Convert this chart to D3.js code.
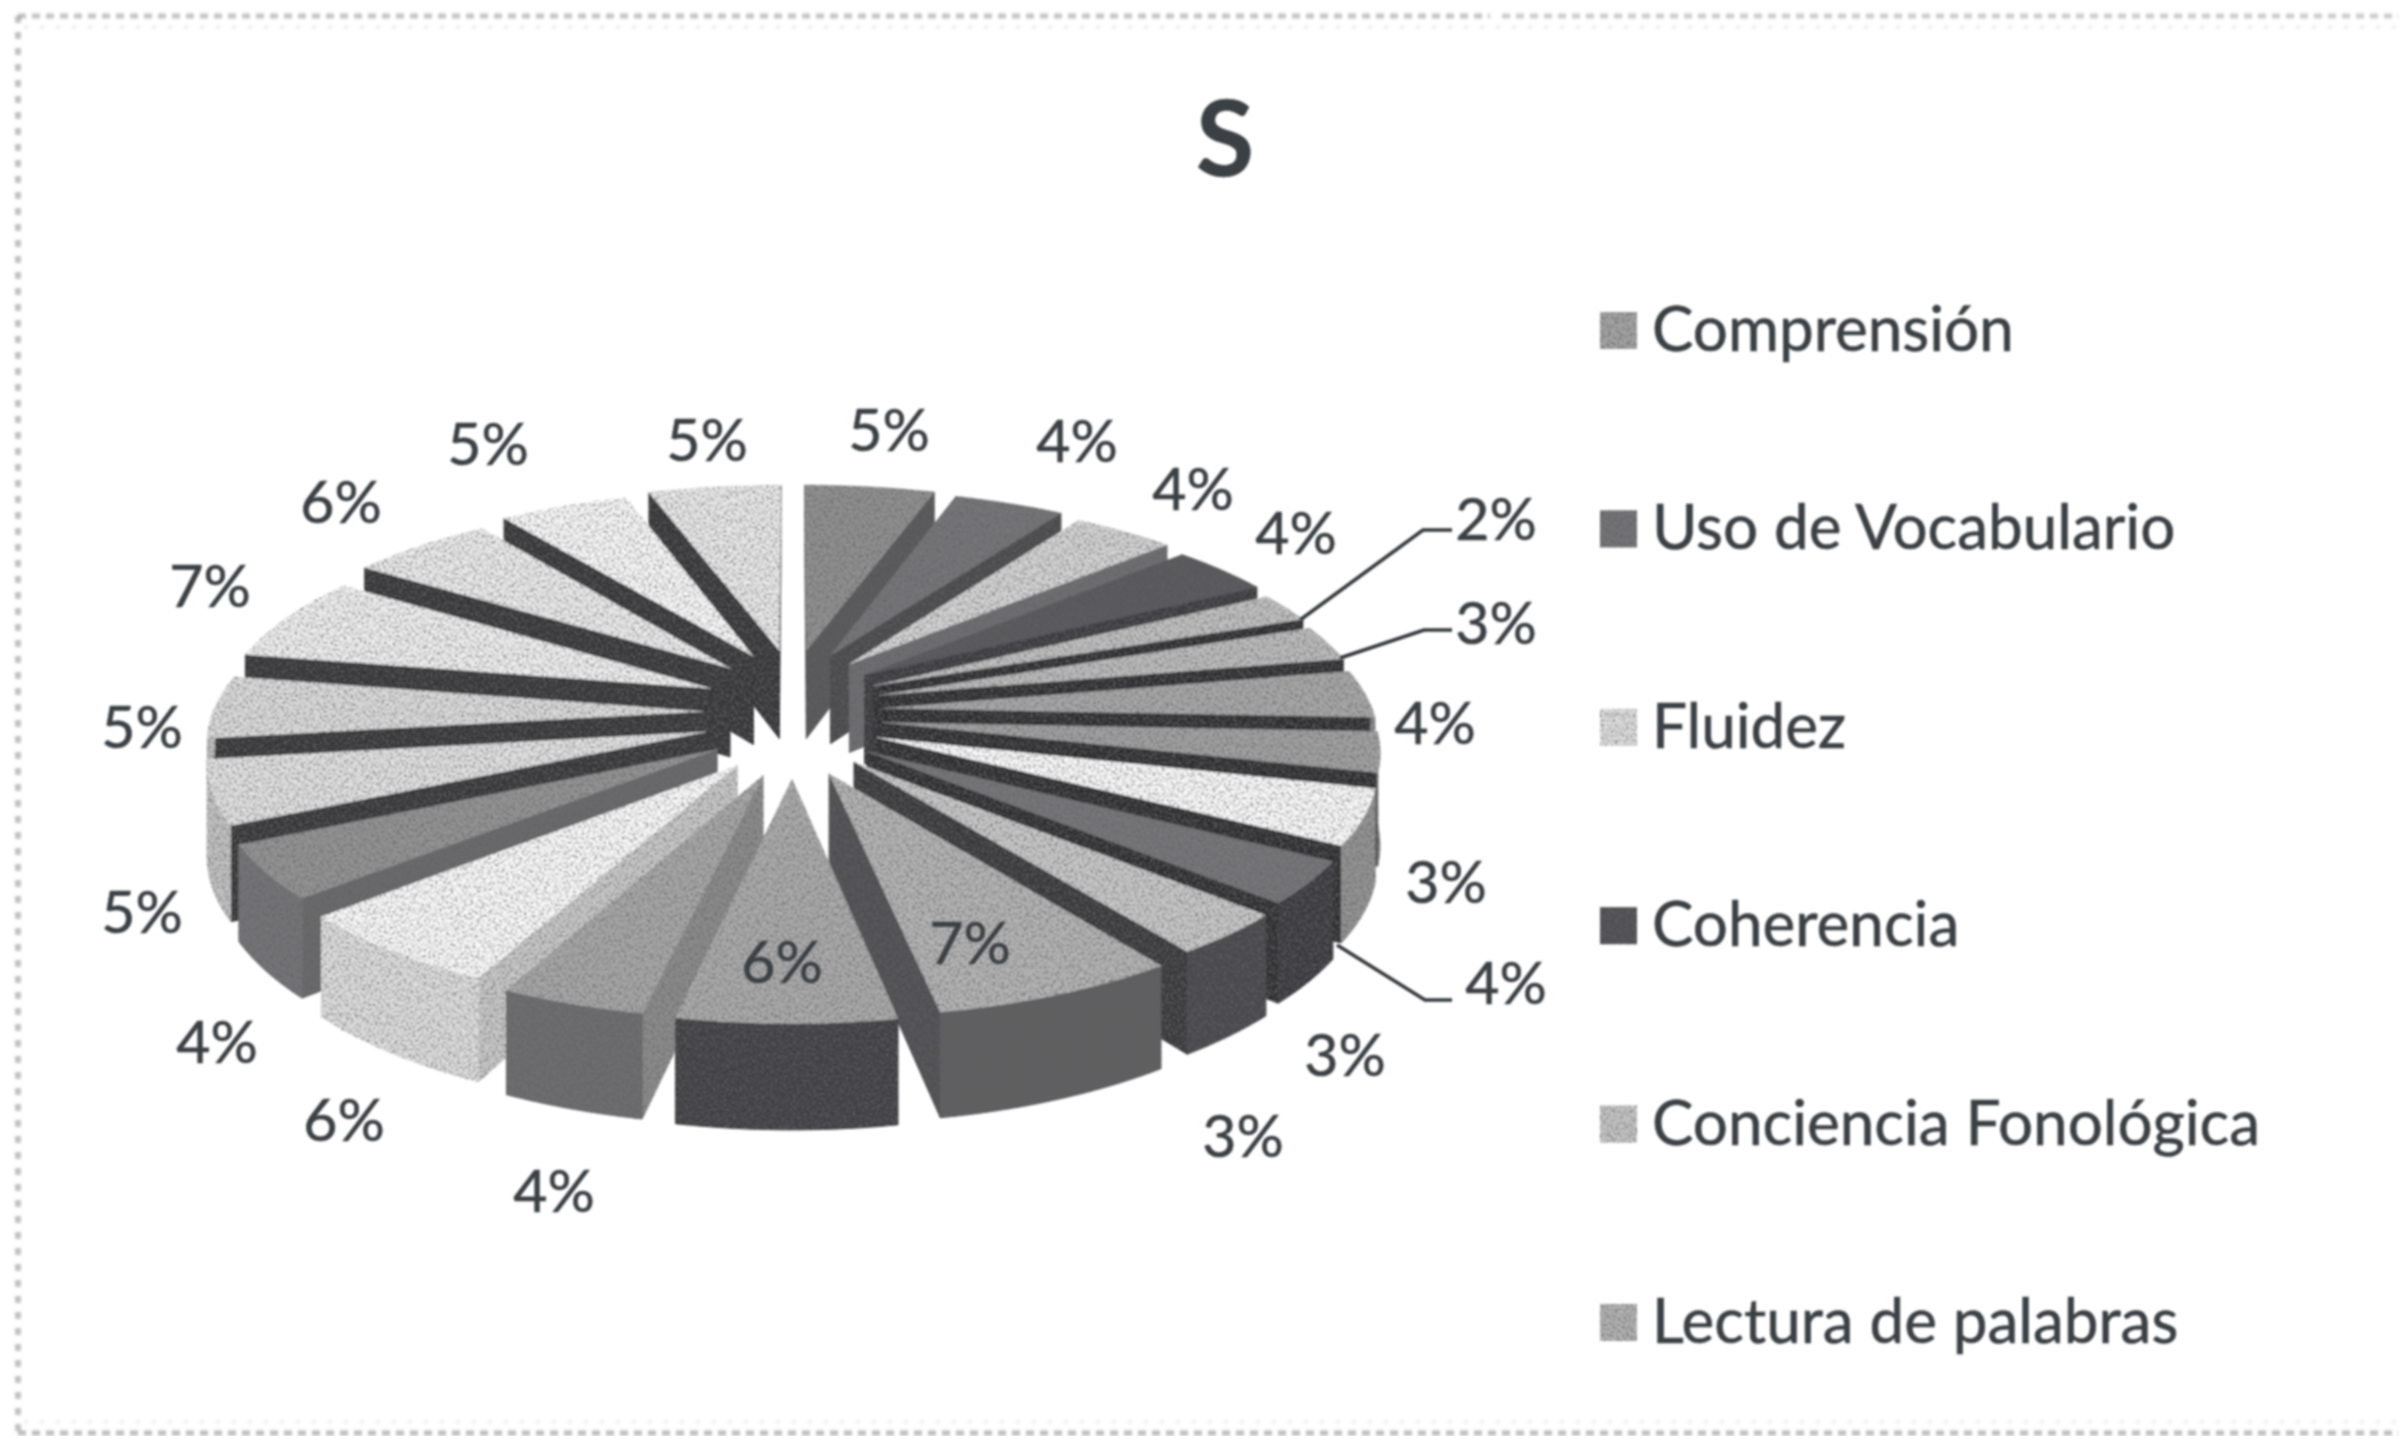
<!DOCTYPE html>
<html>
<head>
<meta charset="utf-8">
<script src="https://cdn.jsdelivr.net/npm/d3@7"></script>
<style>
  html, body { margin: 0; padding: 0; background: #fff; }
  svg { display: block; }
  text { font-family: Lato, "Open Sans", sans-serif; fill: #3b4045; stroke: #3b4045; stroke-width: 0.6; }
</style>
</head>
<body>
<svg id="chart" width="2399" height="1436"></svg>
<script>
// ─── DATA ────────────────────────────────────────────────────────────────────
const title = 'S';
const legendNames = ['Comprensión', 'Uso de Vocabulario', 'Fluidez', 'Coherencia', 'Conciencia Fonológica', 'Lectura de palabras'];
const legendColors = ['#a6a6a6', '#757577', '#e2e2e2', '#505052', '#c8c8c8', '#b6b6b6'];

// clockwise from twelve o'clock (labels are these rounded)
const percents = [4.9, 4.2, 3.9, 3.9, 2.3, 2.8, 3.8, 3.2, 4.4, 3.4, 3.4, 7.0, 6.2, 4.1, 6.2, 4.3, 5.1, 5.0, 6.8, 5.5, 4.9, 5.0];
const topColors = ['#939393', '#777779', '#d8d8d8', '#59595b', '#c4c4c4', '#c0c0c0', '#ababab', '#a4a4a4', '#ffffff', '#78787a', '#cccccc', '#b8b8b8',
                   '#aeaeae', '#aaaaaa', '#ffffff', '#969696', '#e6e6e6', '#e0e0e0', '#f4f4f4', '#f0f0f0', '#fdfdfd', '#eeeeee'];
const sideColors = ['#6a6a6a', '#505052', '#8a8a8a', '#3a3a3c', '#7a7a7a', '#7a7a7a', '#8c8c8c', '#7d7d7d', '#969696', '#36363a', '#46464a', '#5e5e60',
                    '#3e3e40', '#6e6e70', '#e2e2e2', '#767678', '#c6c6c6', '#c2c2c2', '#d6d6d6', '#cecece', '#d6d6d6', '#cecece'];
const wallColors = ['#58585a', '#48484a', '#707072', '#38383a', '#262628', '#262628', '#262628', '#262628', '#262628', '#262628', '#343436', '#505052',
                    '#48484a', '#8e8e8e', '#cccccc', '#6a6a6c', '#303032', '#303032', '#303032', '#303032', '#303032', '#303032'];

// ─── LAYOUT ──────────────────────────────────────────────────────────────────
const svg = d3.select('#chart');
const cx = 793, cy = 713;
const radius = 490, explode = 90, depth = 90;
const tilt = 0.405, explodeLift = 0.315, persp = 0.000263;

// ground plane (x right, y toward the viewer) to screen; the explosion moves a bit more on y
function project(s, gx, gy, z) {
  const Y = s.oy + gy;
  const k = 1 / (1 - persp * Y);
  return [cx + (s.ox + gx) * k, cy + (Y * tilt + s.oy * explodeLift + z) * k];
}

const arcs = d3.pie().sort(null).value(d => d)(percents).map((a, i) => {
  const mid = (a.startAngle + a.endAngle) / 2;
  return {
    i, pct: Math.round(percents[i]), mid,
    start: a.startAngle, end: a.endAngle,
    ox: explode * Math.sin(mid),
    oy: -explode * Math.cos(mid)
  };
});

function ringPoint(s, ang, r, z) {
  return project(s, r * Math.sin(ang), -r * Math.cos(ang), z);
}

const line = d3.line().curve(d3.curveLinear);

// ─── DEFS ────────────────────────────────────────────────────────────────────
const defs = svg.append('defs');
const grain = defs.append('filter').attr('id', 'grain')
  .attr('filterUnits', 'userSpaceOnUse')
  .attr('x', 0).attr('y', 0).attr('width', 2399).attr('height', 1436);
grain.append('feTurbulence').attr('type', 'fractalNoise').attr('baseFrequency', 0.45)
  .attr('numOctaves', 2).attr('seed', 7).attr('result', 'noise');
grain.append('feColorMatrix').attr('in', 'noise').attr('type', 'matrix')
  .attr('values', '0 0 0 0 0.12  0 0 0 0 0.12  0 0 0 0 0.13  2.8 0 0 0 -1.2').attr('result', 'dark');
grain.append('feComposite').attr('in', 'dark').attr('in2', 'SourceAlpha').attr('operator', 'in').attr('result', 'specks');
const merge = grain.append('feMerge').attr('result', 'merged');
merge.append('feMergeNode').attr('in', 'SourceGraphic');
merge.append('feMergeNode').attr('in', 'specks');
grain.append('feGaussianBlur').attr('in', 'merged').attr('stdDeviation', 1);

const soft = defs.append('filter').attr('id', 'soft');
soft.append('feGaussianBlur').attr('stdDeviation', 0.8);
const fuzz = defs.append('filter').attr('id', 'fuzz')
  .attr('filterUnits', 'userSpaceOnUse')
  .attr('x', 0).attr('y', 0).attr('width', 2399).attr('height', 1436);
fuzz.append('feGaussianBlur').attr('stdDeviation', 1.6);

// ─── FRAME (scanner edge) ────────────────────────────────────────────────────
const frame = svg.append('g').attr('fill', 'none').attr('stroke', '#777').attr('filter', 'url(#fuzz)');
frame.append('line').attr('x1', 18).attr('x2', 1490).attr('y1', 16).attr('y2', 16)
  .attr('stroke-width', 5).attr('stroke-dasharray', '8 6').attr('stroke-opacity', 0.45);
frame.append('line').attr('x1', 1502).attr('x2', 2399).attr('y1', 16).attr('y2', 16)
  .attr('stroke-width', 5).attr('stroke-dasharray', '8 6').attr('stroke-opacity', 0.38);
frame.append('line').attr('x1', 24).attr('x2', 2399).attr('y1', 27).attr('y2', 27)
  .attr('stroke-width', 3).attr('stroke-dasharray', '4 12').attr('stroke-opacity', 0.14);
frame.append('line').attr('x1', 18).attr('x2', 18).attr('y1', 16).attr('y2', 1432)
  .attr('stroke-width', 6).attr('stroke-dasharray', '7 9').attr('stroke-opacity', 0.45);
frame.append('line').attr('x1', 18).attr('x2', 2399).attr('y1', 1433).attr('y2', 1433)
  .attr('stroke-width', 5).attr('stroke-dasharray', '8 6').attr('stroke-opacity', 0.5);
frame.append('line').attr('x1', 24).attr('x2', 2399).attr('y1', 1422).attr('y2', 1422)
  .attr('stroke-width', 3).attr('stroke-dasharray', '4 12').attr('stroke-opacity', 0.14);

// ─── PIE ─────────────────────────────────────────────────────────────────────
const pie = svg.append('g').attr('filter', 'url(#grain)');

// back slices first
const order = arcs.slice().sort((a, b) => a.oy - b.oy);

order.forEach(s => {
  const g = pie.append('g');
  const apexTop = project(s, 0, 0, 0);
  const apexBot = project(s, 0, 0, depth);

  // radial walls, only the ones facing the camera
  [s.start, s.end].forEach((ang, n) => {
    const a = ringPoint(s, ang, radius, 0);
    const b = ringPoint(s, ang, radius, depth);
    const quad = n === 0 ? [apexTop, apexBot, b, a] : [apexTop, a, b, apexBot];
    if (d3.polygonArea(quad) > 0) return;
    g.append('path').attr('d', line(quad) + 'Z')
      .attr('fill', wallColors[s.i]).attr('stroke', wallColors[s.i]).attr('stroke-width', 1);
  });

  // outer rim, front half only
  const n = 40;
  const samples = d3.range(n + 1).map(j => s.start + (s.end - s.start) * j / n)
    .filter(a => Math.cos(a) < 0.02);
  if (samples.length > 1) {
    const topEdge = samples.map(a => ringPoint(s, a, radius, 0));
    const botEdge = samples.map(a => ringPoint(s, a, radius, depth)).reverse();
    g.append('path').attr('d', line(topEdge.concat(botEdge)) + 'Z')
      .attr('fill', sideColors[s.i]).attr('stroke', sideColors[s.i]).attr('stroke-width', 1);
  }

  // top face
  const rim = d3.range(n + 1).map(j => ringPoint(s, s.start + (s.end - s.start) * j / n, radius, 0));
  g.append('path').attr('d', line([apexTop].concat(rim)) + 'Z')
    .attr('fill', topColors[s.i]).attr('stroke', topColors[s.i]).attr('stroke-width', 0.5);
});

// ─── LABELS ──────────────────────────────────────────────────────────────────
// label spots placed by hand like the original chart, in slice order
const labelSpots = [[889, 428], [1077, 439], [1193, 487], [1296, 531], [1496, 517], [1496, 621], [1435, 721], [1446, 880], [1506, 981],
                    [1345, 1053], [1243, 1134], [970, 941], [782, 960], [554, 1189], [344, 1118], [217, 1040], [142, 910], [142, 725],
                    [210, 584], [341, 500], [488, 442], [707, 438]];
const leaders = [
  [[1300, 620], [1423, 530], [1452, 530]],
  [[1340, 658], [1424, 630], [1452, 630]],
  [[1337, 945], [1425, 1000], [1452, 1000]]
];

const labels = svg.append('g').attr('filter', 'url(#soft)');
labels.selectAll('text.pct')
  .data(arcs)
  .enter().append('text')
    .attr('class', 'pct')
    .attr('x', d => labelSpots[d.i][0])
    .attr('y', d => labelSpots[d.i][1])
    .attr('text-anchor', 'middle')
    .attr('dominant-baseline', 'central')
    .attr('font-size', 59)
    .text(d => d.pct + '%');

leaders.forEach(pts => {
  labels.append('path').attr('d', line(pts))
    .attr('fill', 'none').attr('stroke', '#33373b').attr('stroke-width', 3.5);
});

// ─── TITLE & LEGEND ──────────────────────────────────────────────────────────
svg.append('text')
  .attr('x', 1225).attr('y', 135)
  .attr('text-anchor', 'middle').attr('dominant-baseline', 'central')
  .attr('font-size', 106).attr('font-weight', 700)
  .attr('filter', 'url(#soft)')
  .text(title);

const y = d3.scalePoint().domain(legendNames).range([330, 1322]);
const legend = svg.append('g').attr('filter', 'url(#grain)');
legend.selectAll('rect').data(legendNames).enter().append('rect')
  .attr('x', 1600).attr('y', d => y(d) - 18)
  .attr('width', 37).attr('height', 37)
  .attr('fill', (d, i) => legendColors[i]);
const legendText = svg.append('g').attr('filter', 'url(#soft)');
legendText.selectAll('text').data(legendNames).enter().append('text')
  .attr('x', 1652).attr('y', d => y(d) - 3)
  .attr('dominant-baseline', 'central')
  .attr('font-size', 62)
  .text(d => d);
</script>
</body>
</html>
